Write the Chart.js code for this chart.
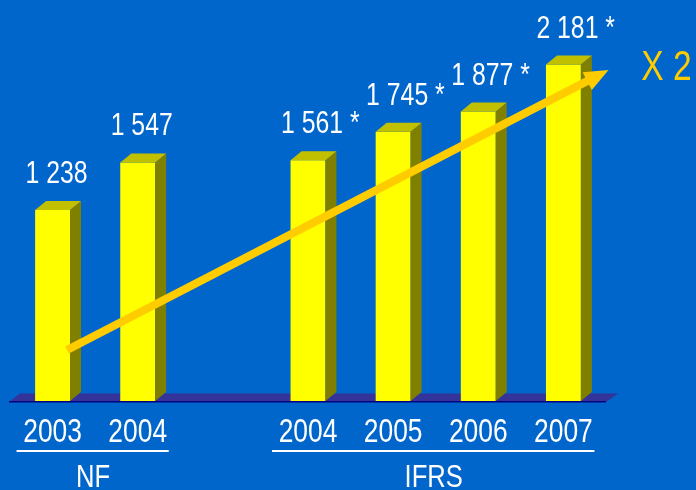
<!DOCTYPE html>
<html>
<head>
<meta charset="utf-8">
<script src="https://cdn.jsdelivr.net/npm/chart.js@4.4.1/dist/chart.umd.min.js"></script>
<style>
  html, body { margin: 0; padding: 0; background: #0066cc; }
  #wrap { width: 696px; height: 490px; position: relative; }
</style>
</head>
<body>
<div id="wrap"><canvas id="results_chart"></canvas></div>
<script>
// Data

const years = ['2003', '2004', '', '2004', '2005', '2006', '2007'];
const results = [1238, 1547, null, 1561, 1745, 1877, 2181];
const estimated = [false, false, false, true, true, true, true];
const groups = ['NF', 'IFRS'];
const group_from = [0, 3];
const group_to = [1, 6];
const trend_x = [0.17, 6.53];
const trend_y = [331, 2146];
const trend_label = 'X 2';

// Look

const font_family = "'Liberation Sans Narrow', 'Arial Narrow', 'Liberation Sans', Arial, sans-serif";
const narrow = 0.8; // horizontal squeeze, no condensed face installed
const depth_x = 11;
const depth_y = 9;

function formatValue(v) {
    return String(v).replace(/\B(?=(\d{3})+(?!\d))/g, ' ');
}

function narrowText(ctx, text, x, y, align) {
    ctx.save();
    ctx.translate(x, y);
    ctx.scale(narrow, 1);
    ctx.textAlign = align;
    ctx.textBaseline = 'alphabetic';
    ctx.fillText(text, 0, 0);
    ctx.restore();
}

// Plugins

const floor_plugin = {
    id: 'floor',
    beforeDatasetsDraw(chart) {
        const { ctx, chartArea: a } = chart;
        ctx.save();
        ctx.fillStyle = '#333399';
        ctx.beginPath();
        ctx.moveTo(a.left - 1, a.bottom + 1);
        ctx.lineTo(a.right, a.bottom + 1);
        ctx.lineTo(a.right + 12, a.bottom - 7.5);
        ctx.lineTo(a.left + 10, a.bottom - 7.5);
        ctx.closePath();
        ctx.fill();
        ctx.fillStyle = '#000080';
        ctx.fillRect(a.left - 1, a.bottom, a.right - a.left + 1, 1.5);
        ctx.restore();
    }
};

const bars_plugin = {
    id: 'bars3d',
    afterDatasetsDraw(chart) {
        const ctx = chart.ctx;
        const meta = chart.getDatasetMeta(0);
        ctx.save();
        meta.data.forEach((bar, i) => {
            if (results[i] == null) return;
            const { x, y, base, width } = bar.getProps(['x', 'y', 'base', 'width'], true);
            const l = x - width / 2;
            const r = x + width / 2;

            ctx.fillStyle = '#808000';
            ctx.beginPath();
            ctx.moveTo(r, y);
            ctx.lineTo(r + depth_x, y - depth_y);
            ctx.lineTo(r + depth_x, base - depth_y);
            ctx.lineTo(r, base);
            ctx.closePath();
            ctx.fill();

            ctx.fillStyle = '#c0c000';
            ctx.beginPath();
            ctx.moveTo(l, y);
            ctx.lineTo(l + depth_x, y - depth_y);
            ctx.lineTo(r + depth_x, y - depth_y);
            ctx.lineTo(r, y);
            ctx.closePath();
            ctx.fill();

            // value label
            ctx.font = '31px ' + font_family;
            ctx.fillStyle = '#ffffff';
            const txt = formatValue(results[i]);
            const cx = x + 4;
            const ty = y - 27;
            narrowText(ctx, txt, cx, ty, 'center');
            if (estimated[i]) {
                narrowText(ctx, ' *', cx + ctx.measureText(txt).width * narrow / 2, ty, 'left');
            }
        });

        // trend arrow
        const xs = chart.scales.x;
        const ys = chart.scales.y;
        const x1 = xs.getPixelForValue(trend_x[0]);
        const y1 = ys.getPixelForValue(trend_y[0]);
        const x2 = xs.getPixelForValue(trend_x[1]);
        const y2 = ys.getPixelForValue(trend_y[1]);
        const ang = Math.atan2(y2 - y1, x2 - x1);
        const cos = Math.cos(ang), sin = Math.sin(ang);
        const head = 24, half = 10;
        const bx = x2 - head * cos, by = y2 - head * sin;
        ctx.strokeStyle = '#ffcc00';
        ctx.fillStyle = '#ffcc00';
        ctx.lineWidth = 8;
        ctx.lineCap = 'butt';
        ctx.beginPath();
        ctx.moveTo(x1, y1);
        ctx.lineTo(bx + 2 * cos, by + 2 * sin);
        ctx.stroke();
        ctx.beginPath();
        ctx.moveTo(x2, y2);
        ctx.lineTo(bx - half * sin, by + half * cos);
        ctx.lineTo(bx + half * sin, by - half * cos);
        ctx.closePath();
        ctx.fill();

        ctx.font = '42px ' + font_family;
        narrowText(ctx, trend_label, x2 + 58, y2 + 10, 'center');
        ctx.restore();
    }
};

const labels_plugin = {
    id: 'labels',
    afterDraw(chart) {
        const ctx = chart.ctx;
        const xs = chart.scales.x;
        ctx.save();
        ctx.fillStyle = '#ffffff';
        ctx.font = '33px ' + font_family;
        years.forEach((yr, i) => {
            if (yr) narrowText(ctx, yr, xs.getPixelForValue(i), 442, 'center');
        });
        ctx.font = '32px ' + font_family;
        groups.forEach((g, i) => {
            const a = xs.getPixelForValue(group_from[i]);
            const b = xs.getPixelForValue(group_to[i]);
            ctx.fillRect(a - 36, 450, b - a + 67, 2);
            narrowText(ctx, g, (a + b) / 2 - 2, 487, 'center');
        });
        ctx.restore();
    }
};

// Chart

const results_chart_canvas = document.getElementById('results_chart');

const results_chart = new Chart(results_chart_canvas, {
    type: 'bar',
    data: {
        labels: years,
        datasets: [{
            data: results,
            backgroundColor: '#ffff00',
            borderWidth: 0,
            barPercentage: 0.41,
            categoryPercentage: 1
        }]
    },
    options: {
        responsive: true,
        maintainAspectRatio: false,
        animation: false,
        layout: {
            padding: { top: 0, left: 10, right: 90, bottom: 29 }
        },
        plugins: {
            legend: { display: false },
            tooltip: { enabled: false }
        },
        scales: {
            x: {
                grid: { display: false, drawTicks: false },
                border: { display: false },
                ticks: { display: false },
                afterFit(scale) {
                    scale.height = 60;
                }
            },
            y: {
                display: false,
                min: 0,
                max: 2600
            }
        }
    },
    plugins: [floor_plugin, bars_plugin, labels_plugin]
});
</script>
</body>
</html>
